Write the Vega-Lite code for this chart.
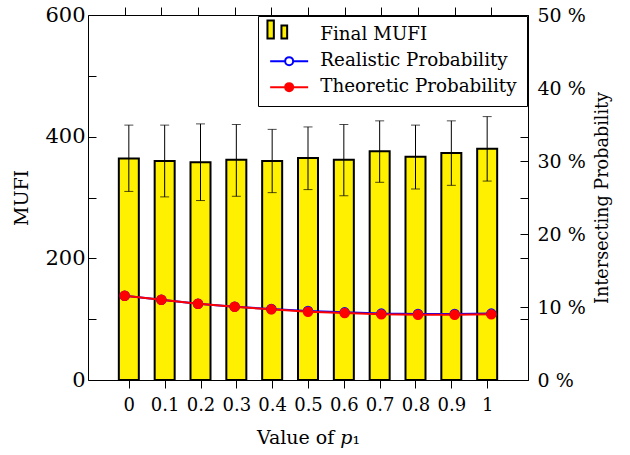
{
  "$schema": "https://vega.github.io/schema/vega-lite/v6.json",
  "width": 440,
  "height": 365,
  "autosize": {"type": "none"},
  "padding": {"left": 88, "top": 15, "right": 102, "bottom": 75},
  "datasets": {
    "bars": [
      {"p": 0, "mufi": 364, "lo": 310, "hi": 419},
      {"p": 0.1, "mufi": 360, "lo": 301, "hi": 419},
      {"p": 0.2, "mufi": 358, "lo": 295, "hi": 421},
      {"p": 0.3, "mufi": 362, "lo": 302, "hi": 420},
      {"p": 0.4, "mufi": 360, "lo": 308, "hi": 412},
      {"p": 0.5, "mufi": 365, "lo": 313, "hi": 416},
      {"p": 0.6, "mufi": 362, "lo": 303, "hi": 420},
      {"p": 0.7, "mufi": 376, "lo": 325, "hi": 426},
      {"p": 0.8, "mufi": 367, "lo": 314, "hi": 419},
      {"p": 0.9, "mufi": 373, "lo": 320, "hi": 426},
      {"p": 1, "mufi": 380, "lo": 327, "hi": 433}
    ],
    "probs": [
      {"p": 0, "series": "Realistic Probability", "prob": 11.55},
      {"p": 0.1, "series": "Realistic Probability", "prob": 11.0},
      {"p": 0.2, "series": "Realistic Probability", "prob": 10.45},
      {"p": 0.3, "series": "Realistic Probability", "prob": 10.05},
      {"p": 0.4, "series": "Realistic Probability", "prob": 9.72},
      {"p": 0.5, "series": "Realistic Probability", "prob": 9.45},
      {"p": 0.6, "series": "Realistic Probability", "prob": 9.27},
      {"p": 0.7, "series": "Realistic Probability", "prob": 9.1},
      {"p": 0.8, "series": "Realistic Probability", "prob": 9.05},
      {"p": 0.9, "series": "Realistic Probability", "prob": 9.05},
      {"p": 1, "series": "Realistic Probability", "prob": 9.1},
      {"p": 0, "series": "Theoretic Probability", "prob": 11.54},
      {"p": 0.1, "series": "Theoretic Probability", "prob": 10.99},
      {"p": 0.2, "series": "Theoretic Probability", "prob": 10.44},
      {"p": 0.3, "series": "Theoretic Probability", "prob": 10.03},
      {"p": 0.4, "series": "Theoretic Probability", "prob": 9.68},
      {"p": 0.5, "series": "Theoretic Probability", "prob": 9.35},
      {"p": 0.6, "series": "Theoretic Probability", "prob": 9.17},
      {"p": 0.7, "series": "Theoretic Probability", "prob": 8.99},
      {"p": 0.8, "series": "Theoretic Probability", "prob": 8.94},
      {"p": 0.9, "series": "Theoretic Probability", "prob": 8.94},
      {"p": 1, "series": "Theoretic Probability", "prob": 8.99}
    ]
  },
  "config": {
    "view": {"stroke": "black", "strokeWidth": 1},
    "font": "DejaVu Serif",
    "axis": {
      "domain": false,
      "grid": false,
      "labelFont": "DejaVu Serif",
      "titleFont": "DejaVu Serif",
      "labelColor": "black",
      "titleColor": "black",
      "titleFontWeight": "normal",
      "tickColor": "black",
      "labelFlush": false,
      "labelOverlap": false
    }
  },
  "resolve": {"scale": {"x": "independent", "y": "independent"}},
  "layer": [
    {
      "data": {"name": "bars"},
      "layer": [
        {
          "mark": {"type": "bar", "width": 20, "fill": "#fff000", "stroke": "black", "strokeWidth": 2},
          "encoding": {
            "x": {
              "field": "p", "type": "quantitative",
              "scale": {"domain": [-0.1, 1.1], "nice": false, "zero": false},
              "axis": {
                "orient": "bottom",
                "values": [0, 0.1, 0.2, 0.3, 0.4, 0.5, 0.6, 0.7, 0.8, 0.9, 1],
                "format": "~g",
                "labelFontSize": 18,
                "tickSize": 8,
                "labelPadding": 8,
                "title": "Value of 𝑝₁",
                "titleFontSize": 19,
                "titlePadding": 14
              }
            },
            "y": {
              "field": "mufi", "type": "quantitative", "title": "MUFI",
              "scale": {"domain": [0, 600], "nice": false},
              "axis": {
                "orient": "left",
                "values": [0, 100, 200, 300, 400, 500, 600],
                "labelExpr": "datum.value % 200 === 0 ? datum.label : ''",
                "labelFontSize": 21,
                "tickSize": -8,
                "labelPadding": 11,
                "title": "MUFI",
                "titleFontSize": 19,
                "titlePadding": 13
              }
            }
          }
        },
        {
          "mark": {"type": "errorbar", "color": "black", "thickness": 1, "ticks": {"size": 9}},
          "encoding": {
            "x": {"field": "p", "type": "quantitative"},
            "y": {"field": "lo", "type": "quantitative", "title": "MUFI"},
            "y2": {"field": "hi"}
          }
        }
      ]
    },
    {
      "data": {"name": "probs"},
      "layer": [
        {
          "mark": {"type": "line", "strokeWidth": 2},
          "encoding": {
            "x": {"field": "p", "type": "quantitative", "scale": {"domain": [-0.1, 1.1], "nice": false, "zero": false}, "axis": null},
            "y": {
              "field": "prob", "type": "quantitative",
              "scale": {"domain": [0, 50], "nice": false},
              "axis": {
                "orient": "right",
                "values": [0, 10, 20, 30, 40, 50],
                "labelExpr": "datum.value + ' %'",
                "labelFontSize": 19,
                "tickSize": -8,
                "labelPadding": 17,
                "title": "Intersecting Probability",
                "titleFontSize": 17.6,
                "titleAngle": 270,
                "titleBaseline": "top",
                "titlePadding": 8
              }
            },
            "stroke": {
              "field": "series", "type": "nominal",
              "scale": {"domain": ["Final MUFI", "Realistic Probability", "Theoretic Probability"], "range": ["black", "blue", "red"]},
              "legend": {
                "title": null,
                "orient": "top-right",
                "offset": 1,
                "strokeColor": "black",
                "fillColor": "white",
                "padding": 10,
                "labelFont": "DejaVu Serif",
                "labelFontSize": 18.3,
                "labelColor": "black",
                "labelLimit": 400,
                "symbolSize": 100,
                "symbolOffset": 12,
                "labelOffset": 22,
                "rowPadding": 7,
                "symbolStrokeWidth": 2,
                "encode": {
                  "symbols": {
                    "update": {
                      "shape": {"signal": "datum.value === 'Final MUFI' ? 'M-4.34,-2.92H-3.06V0.68H-4.34Z M-1.54,-1.92H-0.4V0.68H-1.54Z' : 'M-3.8,0H-0.8M0.8,0H3.8M0.8,0A0.8,0.8,0,1,1,-0.8,0A0.8,0.8,0,1,1,0.8,0'"},
                      "fill": {"signal": "datum.value === 'Final MUFI' ? '#fff000' : datum.value === 'Realistic Probability' ? 'white' : 'red'"},
                      "stroke": {"signal": "datum.value === 'Final MUFI' ? 'black' : datum.value === 'Realistic Probability' ? 'blue' : 'red'"},
                      "strokeWidth": {"value": 2},
                      "opacity": {"value": 1}
                    }
                  }
                }
              }
            }
          }
        },
        {
          "mark": {"type": "point", "shape": "circle", "filled": true, "size": 80, "strokeWidth": 1.5, "opacity": 1},
          "encoding": {
            "x": {"field": "p", "type": "quantitative"},
            "y": {"field": "prob", "type": "quantitative"},
            "stroke": {"field": "series", "type": "nominal"},
            "fill": {
              "field": "series", "type": "nominal",
              "scale": {"domain": ["Final MUFI", "Realistic Probability", "Theoretic Probability"], "range": ["#fff000", "white", "red"]},
              "legend": null
            }
          }
        }
      ]
    },
    {
      "data": {"name": "bars"},
      "mark": {"type": "point", "opacity": 0},
      "encoding": {
        "x": {
          "field": "p", "type": "quantitative",
          "scale": {"domain": [-0.1, 1.1], "nice": false, "zero": false},
          "axis": {"orient": "top", "values": [0, 0.1, 0.2, 0.3, 0.4, 0.5, 0.6, 0.7, 0.8, 0.9, 1], "labels": false, "tickSize": 8, "title": null}
        },
        "y": {
          "field": "mufi", "type": "quantitative",
          "scale": {"domain": [0, 600], "nice": false},
          "axis": {"orient": "right", "values": [0, 100, 200, 300, 400, 500, 600], "labels": false, "tickSize": -8, "title": null}
        }
      }
    }
  ]
}
